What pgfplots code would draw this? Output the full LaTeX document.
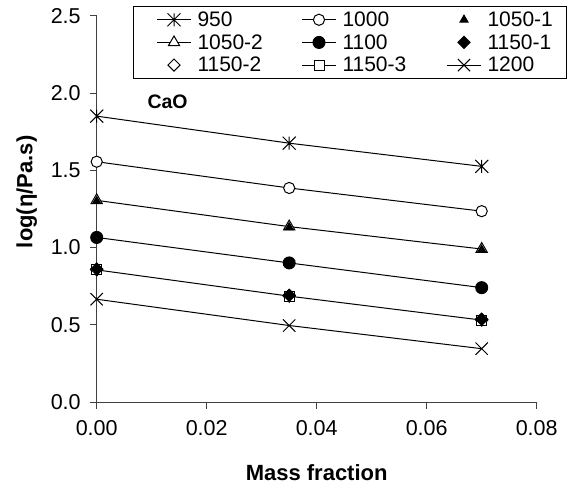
\documentclass[border=0pt]{standalone}
\usepackage{fontspec}
\setmainfont{Liberation Sans}
\usepackage{pgfplots}
\usepackage{pgfplotstable}
\pgfplotsset{compat=1.18}
\pgfdeclareplotmark{xbar}{%
  \pgfpathmoveto{\pgfqpoint{-\pgfplotmarksize}{-\pgfplotmarksize}}%
  \pgfpathlineto{\pgfqpoint{\pgfplotmarksize}{\pgfplotmarksize}}%
  \pgfpathmoveto{\pgfqpoint{-\pgfplotmarksize}{\pgfplotmarksize}}%
  \pgfpathlineto{\pgfqpoint{\pgfplotmarksize}{-\pgfplotmarksize}}%
  \pgfpathmoveto{\pgfqpoint{0pt}{-\pgfplotmarksize}}%
  \pgfpathlineto{\pgfqpoint{0pt}{\pgfplotmarksize}}%
  \pgfusepathqstroke}
\pgfplotsset{
  lineleg/.style={legend image code/.code={\draw[mark repeat=2,mark phase=2,##1] plot coordinates {(0pt,0pt)(17pt,0pt)(34pt,0pt)};}},
  markleg/.style={legend image code/.code={\draw[##1, only marks, mark repeat=2, mark phase=2] plot coordinates {(0pt,0pt)(17pt,0pt)(34pt,0pt)};}},
}

\pgfplotstableread{
x y
0 1.300
0.035 1.130
0.07 0.985
}\tabA
\pgfplotstableread{
x y
0 0.860
0.035 0.690
0.07 0.535
}\tabB

\begin{document}
\begin{tikzpicture}
\useasboundingbox (-96.7pt,-88pt) rectangle (471.3pt,402pt);
\begin{axis}[
  at={(0pt,0pt)}, anchor=south west,
  width=440pt, height=386.3pt, scale only axis,
  xmin=0, xmax=0.08, ymin=0, ymax=2.5,
  clip=false,
  axis x line=bottom, axis y line=left,
  axis line style={-, black!75, line width=0.9pt},
  xtick={0,0.02,0.04,0.06,0.08},
  ytick={0,0.5,1,1.5,2,2.5},
  scaled x ticks=false, scaled y ticks=false,
  tick align=outside, major tick length=6.5pt,
  tick style={black!75, line width=0.9pt},
  /pgf/number format/assume math mode=true,
  xticklabel style={/pgf/number format/fixed, /pgf/number format/fixed zerofill, /pgf/number format/precision=2, yshift=-8pt},
  yticklabel style={/pgf/number format/fixed, /pgf/number format/fixed zerofill, /pgf/number format/precision=1, xshift=-6pt},
  ticklabel style={font=\fontsize{21.5}{24}\selectfont},
  xlabel={Mass fraction},
  ylabel={log(η/Pa.s)},
  label style={font=\fontsize{22}{26}\selectfont\bfseries},
  xlabel style={at={(axis description cs:0.5,0)}, anchor=center, yshift=-71pt},
  ylabel style={at={(axis description cs:-0.159,0.544)}, anchor=center},
  every axis plot/.append style={line width=1pt, black},
  legend columns=3,
  legend cell align=left,
  lineleg,
  legend style={at={(axis description cs:0.0832,1.0259)}, anchor=north west,
    draw=black, line width=1pt, font=\fontsize{21}{24}\selectfont,
    inner xsep=22.7pt, inner ysep=5.5pt, row sep=6.5pt,
    nodes={inner sep=0pt},
    /tikz/every odd column/.append style={column sep=6pt},
    /tikz/every even column/.append style={column sep=0pt}},
]
\addplot[mark=xbar, mark size=6.5pt] coordinates {(0,1.850) (0.035,1.675) (0.07,1.525)};
\addlegendentry{\makebox[104pt][l]{950}}
\addplot[mark=*, mark size=5.6pt, mark options={fill=white}] coordinates {(0,1.555) (0.035,1.385) (0.07,1.235)};
\addlegendentry{\makebox[104pt][l]{1000}}
\addplot[only marks, mark=triangle*, mark size=4.6pt, markleg] table {\tabA};
\addlegendentry{\makebox[56pt][l]{1050-1}}
\addplot[mark=triangle*, mark size=6.5pt, mark options={fill=white}] coordinates {(0,1.305) (0.035,1.135) (0.07,0.990)};
\addlegendentry{\makebox[104pt][l]{1050-2}}
\addplot[mark=*, mark size=6pt] coordinates {(0,1.065) (0.035,0.900) (0.07,0.740)};
\addlegendentry{\makebox[104pt][l]{1100}}
\addplot[only marks, mark=square*, mark size=4.3pt, mark options={rotate=45}, markleg] table {\tabB};
\addlegendentry{\makebox[56pt][l]{1150-1}}
\addplot[only marks, mark=square*, mark size=4.3pt, mark options={rotate=45, fill=white}, markleg] coordinates {(0,0.855) (0.035,0.685) (0.07,0.530)};
\addlegendentry{\makebox[104pt][l]{1150-2}}
\addplot[mark=square*, mark size=5pt, mark options={fill=white}] coordinates {(0,0.855) (0.035,0.685) (0.07,0.530)};
\addlegendentry{\makebox[104pt][l]{1150-3}}
\addplot[mark=x, mark size=8.7pt] coordinates {(0,0.665) (0.035,0.495) (0.07,0.345)};
\addlegendentry{\makebox[56pt][l]{1200}}
% filled markers drawn again on top of the open ones
\addplot[forget plot, only marks, mark=triangle*, mark size=4.6pt] table {\tabA};
\addplot[forget plot, only marks, mark=square*, mark size=4.3pt, mark options={rotate=45}] table {\tabB};
\node[anchor=base west, font=\fontsize{19.5}{22}\selectfont\bfseries] at (axis cs:0.0086,1.90) {CaO};
\end{axis}
\end{tikzpicture}
\end{document}
